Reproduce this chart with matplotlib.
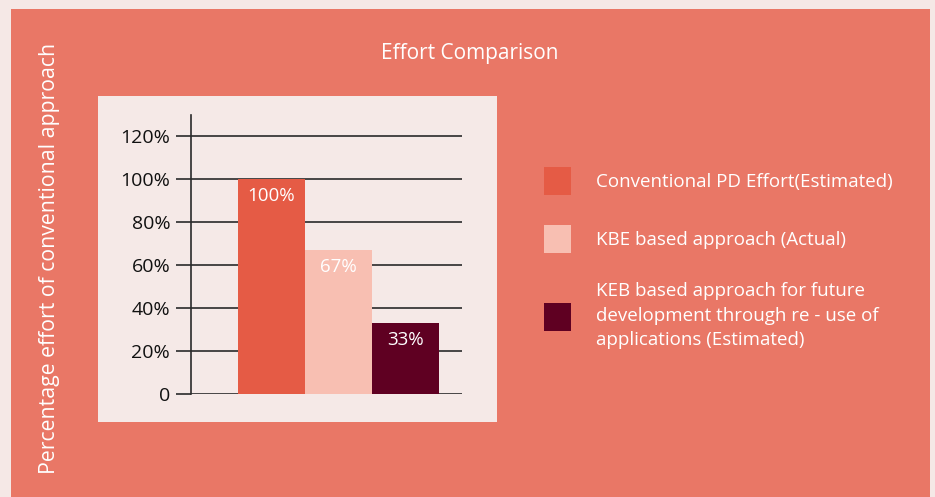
import matplotlib
matplotlib.use('Agg')
import matplotlib.pyplot as plt
from matplotlib.patches import Rectangle

plt.rcParams['font.family'] = ['Open Sans', 'DejaVu Sans']

# data
categories = ['Conventional PD Effort(Estimated)',
              'KBE based approach (Actual)',
              'KEB based approach for future\ndevelopment through re - use of\napplications (Estimated)']
values = [100, 67, 33]
bar_labels = ['100%', '67%', '33%']
yticks = [0, 20, 40, 60, 80, 100, 120]
ytick_labels = ['0', '20%', '40%', '60%', '80%', '100%', '120%']
colors = ['#E55B45', '#F8BFB2', '#5F0022']

bg_outer = '#F5E8E6'
bg_salmon = '#E97766'
panel = '#F5E9E7'

W, H = 935, 497
fig = plt.figure(figsize=(W / 100, H / 100), dpi=100)
fig.patch.set_facecolor(bg_outer)

# salmon backdrop and light chart panel
fig.patches.append(Rectangle((11 / W, 0), 919 / W, 488 / H, transform=fig.transFigure,
                             facecolor=bg_salmon, edgecolor='none', zorder=0))
fig.patches.append(Rectangle((98 / W, 75 / H), 399 / W, 326 / H, transform=fig.transFigure,
                             facecolor=panel, edgecolor='none', zorder=0))

ax = fig.add_axes([191 / W, 103 / H, 271 / W, 279.5 / H])
ax.set_zorder(2)
ax.set_facecolor('none')

x = list(range(len(values)))
bars = ax.bar(x, values, width=1.0, color=colors, zorder=3)

for b, lab in zip(bars, bar_labels):
    ax.annotate(lab, (b.get_x() + b.get_width() / 2, b.get_height()),
                xytext=(0, -12.5), textcoords='offset points',
                ha='center', va='center', color='white', fontsize=13.5, zorder=4)

ax.set_xlim(-1.2, 2.84)
ax.set_ylim(0, 130)
ax.set_yticks(yticks)
ax.set_yticklabels(ytick_labels, fontsize=14, color='#111111')
ax.set_xticks([])
for t in yticks:
    ax.axhline(t, color='#2a2a2a', lw=1.2, zorder=1)
ax.tick_params(axis='y', length=11, width=1.2, color='#2a2a2a', pad=4)
for s in ['top', 'right', 'bottom']:
    ax.spines[s].set_visible(False)
ax.spines['left'].set_color('#2a2a2a')
ax.spines['left'].set_linewidth(1.2)

fig.text(470 / W, (H - 53) / H, 'Effort Comparison', ha='center', va='center',
         color='white', fontsize=15)
fig.text(50 / W, (H - 258) / H, 'Percentage effort of conventional approach',
         rotation=90, ha='center', va='center', color='white', fontsize=15.3)

leg = fig.legend(bars, categories, loc='upper left',
                 bbox_to_anchor=(544 / W, (H - 167) / H), frameon=False,
                 fontsize=13.5, labelcolor='white', borderpad=0, borderaxespad=0,
                 handlelength=1.45, handleheight=1.9, handletextpad=1.3,
                 labelspacing=1.6)
for t in leg.get_texts():
    t.set_linespacing(1.45)

fig.savefig('out.png', dpi=100, facecolor=fig.get_facecolor())
